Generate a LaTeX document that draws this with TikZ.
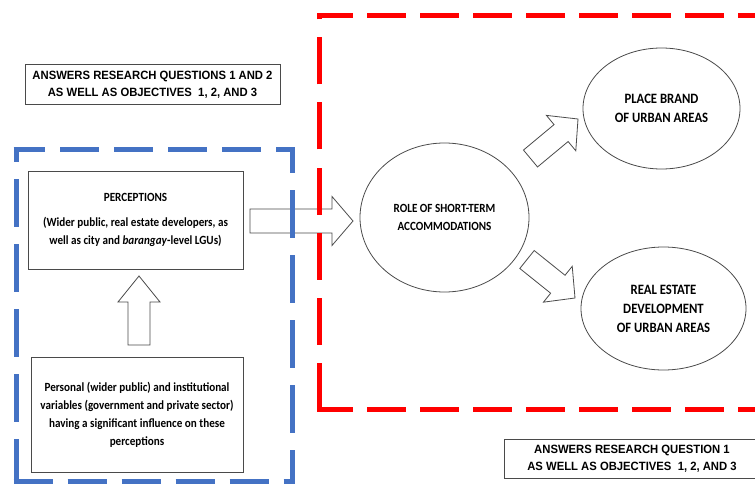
\documentclass[tikz,border=0pt]{standalone}
\usepackage{fontspec}
\usetikzlibrary{calc,shapes.geometric}
\newfontfamily\calfont[FakeStretch=0.89]{Carlito}
\newfontfamily\arlfont[FakeStretch=0.94]{Liberation Sans}
\definecolor{frameblue}{HTML}{4472C4}
\definecolor{framered}{HTML}{FF0000}
\definecolor{edgegray}{HTML}{4A4A4A}
\tikzset{
  labelbox/.style={draw=edgegray, line width=1pt, fill=white, inner sep=0pt, align=center,
    font=\arlfont\bfseries\fontsize{12}{17}\selectfont},
  textbox/.style={draw=edgegray, line width=0.9pt, fill=white, inner sep=0pt, align=center,
    font=\calfont\bfseries\fontsize{12.5}{18}\selectfont},
  oval/.style={ellipse, draw=edgegray, line width=0.8pt, fill=white, inner sep=0pt, align=center},
  blockarr/.style={draw=edgegray, line width=0.8pt, fill=white, line join=miter},
  redframe/.style={draw=framered, line width=5pt},
  blueframe/.style={draw=frameblue, line width=5pt},
}
\newcommand\BlockArr[6]{%
  \coordinate (hb) at ($(#3)!#6!(#2)$);
  \draw[#1] ($(#2)!#4!90:(#3)$) -- ($(hb)!#4!-90:(#2)$) -- ($(hb)!#5!-90:(#2)$) -- (#3)
    -- ($(hb)!#5!90:(#2)$) -- ($(hb)!#4!90:(#2)$) -- ($(#2)!#4!-90:(#3)$) -- cycle;
}
\begin{document}
\begin{tikzpicture}[x=1pt,y=-1pt]
\useasboundingbox (0,0) rectangle (755,484);
\fill[white] (0,0) rectangle (755,484);

% arrows (under the frames)
\coordinate (a1t) at (250,221);   \coordinate (a1h) at (353,221);
\coordinate (a2t) at (139,345);   \coordinate (a2h) at (139,276);
\coordinate (a3t) at (530.5,158.5); \coordinate (a3h) at (578,119);
\coordinate (a4t) at (527,259.5); \coordinate (a4h) at (575,298);
\BlockArr{blockarr}{a1t}{a1h}{12pt}{24.5pt}{21pt}
\BlockArr{blockarr}{a2t}{a2h}{11pt}{21pt}{26pt}
\BlockArr{blockarr}{a3t}{a3h}{11pt}{23pt}{22pt}
\BlockArr{blockarr}{a4t}{a4h}{11.5pt}{23pt}{22pt}

% red dashed frame
\draw[redframe, dash pattern=on 39pt off 14pt, dash phase=3pt] (317,15.5) -- (760,15.5);
\draw[redframe, dash pattern=on 39pt off 14pt, dash phase=3pt] (317,409.5) -- (760,409.5);
\draw[redframe, dash pattern=on 47pt off 18pt] (319.5,409.5) -- (319.5,15.5);

% blue dashed frame
\draw[blueframe, dash pattern=on 39pt off 15pt, dash phase=7.5pt] (13.5,150) -- (295,150);
\draw[blueframe, dash pattern=on 39pt off 15pt] (13.5,481.5) -- (295,481.5);
\draw[blueframe, dash pattern=on 48pt off 17pt, dash phase=33.5pt] (16,147.5) -- (16,484);
\draw[blueframe, dash pattern=on 48pt off 17pt, dash phase=22.5pt] (292.5,147.5) -- (292.5,484);

% label boxes
\node[labelbox, minimum width=255pt, minimum height=40pt] (lab1) at (152.5,85)
  {ANSWERS RESEARCH QUESTIONS 1 AND 2\\AS WELL AS OBJECTIVES~ 1, 2, AND 3};
\node[labelbox, minimum width=256pt, minimum height=39pt] (lab2) at (632,458.5)
  {ANSWERS RESEARCH QUESTION 1\\AS WELL AS OBJECTIVES~ 1, 2, AND 3};

% left boxes
\node[textbox, minimum width=215pt, minimum height=98pt] (perc) at (135.5,220)
  {PERCEPTIONS\\[7pt](Wider public, real estate developers, as\\well as city and \textit{barangay}-level LGUs)};
\node[textbox, minimum width=212pt, minimum height=115pt] (vars) at (137,414.5)
  {Personal (wider public) and institutional\\variables (government and private sector)\\having a significant influence on these\\perceptions};

% ellipses
\node[oval, minimum width=169pt, minimum height=149pt, font=\calfont\bfseries\fontsize{12.5}{18}\selectfont] (role) at (444.5,217.5)
  {ROLE OF SHORT-TERM\\ACCOMMODATIONS};
\node[oval, minimum width=157pt, minimum height=121pt, font=\calfont\bfseries\fontsize{14.3}{19}\selectfont] (brand) at (661.5,108.5)
  {PLACE BRAND\\OF URBAN AREAS};
\node[oval, minimum width=165pt, minimum height=123pt, font=\calfont\bfseries\fontsize{14.3}{19}\selectfont] (real) at (663.5,308.5)
  {REAL ESTATE\\DEVELOPMENT\\OF URBAN AREAS};
\end{tikzpicture}
\end{document}
